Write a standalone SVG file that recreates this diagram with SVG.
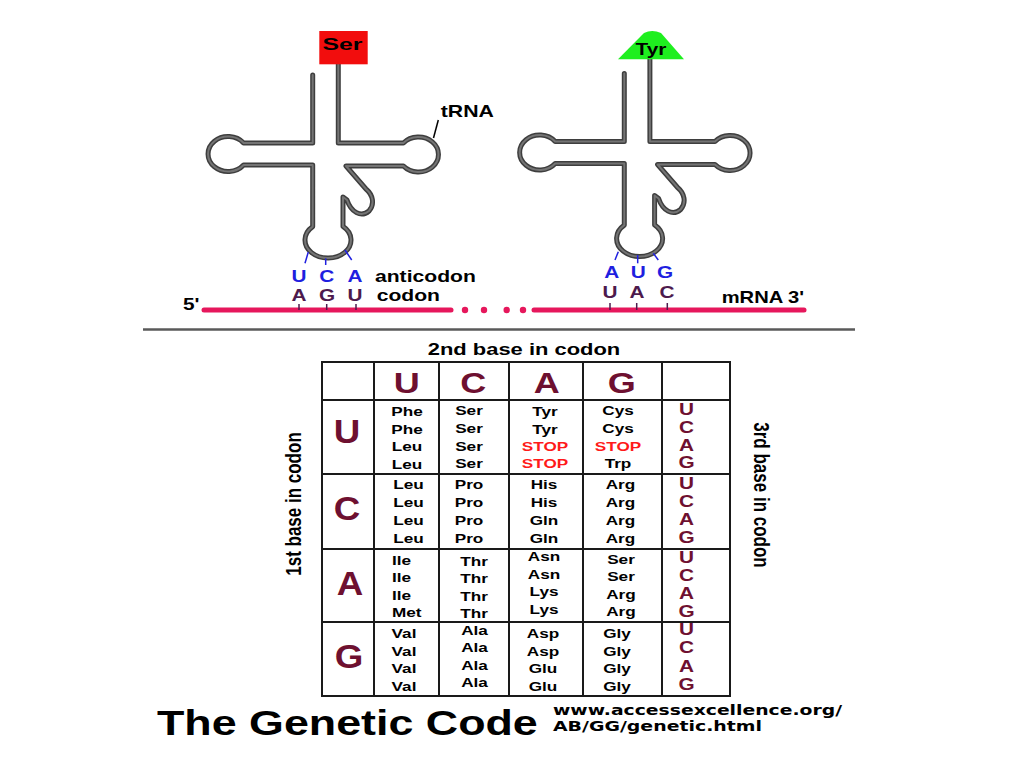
<svg xmlns="http://www.w3.org/2000/svg" xmlns:xlink="http://www.w3.org/1999/xlink" width="1024" height="768" viewBox="0 0 1024 768">
<style>
.tx{font-family:"Liberation Sans",Arial,Helvetica,sans-serif;font-weight:bold;fill:#000}
.lbl{font-size:16px}
.cell{font-size:13px}
.stop{fill:#ff1a1a}
.mar{fill:#6e1030}
.big{font-size:30px}
.side{font-size:34px}
.third{font-size:16px}
.anti{fill:#1f1fe0;font-size:16px}
.cod{fill:#4d1a4d;font-size:16px}
.url{font-family:"DejaVu Sans",Verdana,sans-serif;font-weight:bold;font-size:13.5px;fill:#000}
.shape-out{fill:none;stroke:#3e3e3e;stroke-width:5;stroke-linejoin:round;stroke-linecap:round}
.shape-in{fill:none;stroke:#747474;stroke-width:2;stroke-linejoin:round;stroke-linecap:round}
.grid{fill:none;stroke:#1a1a1a;stroke-width:2}
.mrna{stroke:#e6175c;stroke-width:5;stroke-linecap:round}
.dot{fill:#e6175c}
.tickb{stroke:#2020e0;stroke-width:1.5}
.tickp{stroke:#4d1a4d;stroke-width:1.5}
</style>
<defs>
<path id="trnaShape" d="M312.7,75 V143 H243.6 A20,17.5 0 1 0 243.6,165 H312.7 V226.6 A23,18 0 1 0 343,226.4 V197 L347,200 C351,212 361,218 369,211 C375,204 373,195 366,189 L346,166 H403.4 A20,17.5 0 1 0 403.4,143 H338.3 V60"/>
</defs>
<rect width="1024" height="768" fill="#fff"/>

<g id="trna-ser">
<use xlink:href="#trnaShape" class="shape-out"/>
<use xlink:href="#trnaShape" class="shape-in"/>
<rect x="319.3" y="31" width="48.4" height="33.3" fill="#f20d0d"/>
<text class="tx lbl" text-anchor="middle" transform="translate(342.5,50) scale(1.55,1)">Ser</text>
</g>

<g id="trna-tyr">
<g transform="translate(311.6,-1.5)">
<use xlink:href="#trnaShape" class="shape-out"/>
<use xlink:href="#trnaShape" class="shape-in"/>
</g>
<path d="M618,59.3 L644,33 Q652,29 661,33 L684,59.3 Z" fill="#1fef1f"/>
<text class="tx lbl" text-anchor="middle" transform="translate(651,55) scale(1.3,1)">Tyr</text>
</g>

<g id="trna-label">
<text class="tx lbl" transform="translate(440.7,116.7) scale(1.33,1)">tRNA</text>
</g>

<g id="anticodon-left">
<text class="tx anti" text-anchor="middle" transform="translate(299,281.7) scale(1.3,1)">U</text>
<text class="tx anti" text-anchor="middle" transform="translate(326.7,281.7) scale(1.3,1)">C</text>
<text class="tx anti" text-anchor="middle" transform="translate(355,281.7) scale(1.3,1)">A</text>
<text class="tx cod" text-anchor="middle" transform="translate(299,301) scale(1.3,1)">A</text>
<text class="tx cod" text-anchor="middle" transform="translate(327,301) scale(1.3,1)">G</text>
<text class="tx cod" text-anchor="middle" transform="translate(355,301) scale(1.3,1)">U</text>
</g>

<g id="anticodon-right">
<text class="tx anti" text-anchor="middle" transform="translate(611.7,278.3) scale(1.3,1)">A</text>
<text class="tx anti" text-anchor="middle" transform="translate(638.3,278.3) scale(1.3,1)">U</text>
<text class="tx anti" text-anchor="middle" transform="translate(665,278.3) scale(1.3,1)">G</text>
<text class="tx cod" text-anchor="middle" transform="translate(610,298.3) scale(1.3,1)">U</text>
<text class="tx cod" text-anchor="middle" transform="translate(637,298.3) scale(1.3,1)">A</text>
<text class="tx cod" text-anchor="middle" transform="translate(667,298.3) scale(1.3,1)">C</text>
</g>

<g id="labels">
<text class="tx lbl" transform="translate(375,281.7) scale(1.32,1)">anticodon</text>
<text class="tx lbl" transform="translate(376.7,301) scale(1.32,1)">codon</text>
<text class="tx lbl" transform="translate(183,310) scale(1.3,1)">5'</text>
<text class="tx lbl" transform="translate(721.7,303.3) scale(1.26,1)">mRNA  3'</text>
</g>

<g id="mrna">
<line class="mrna" x1="204" y1="310" x2="451" y2="310"/>
<circle class="dot" cx="465" cy="310" r="3.2"/>
<circle class="dot" cx="484" cy="310" r="3.2"/>
<circle class="dot" cx="506.7" cy="310" r="3.2"/>
<circle class="dot" cx="523" cy="310" r="3.2"/>
<line class="mrna" x1="534" y1="310" x2="804" y2="310"/>
</g>

<g id="connectors">
<line x1="438.3" y1="120" x2="433.5" y2="138" stroke="#000" stroke-width="1.5"/>
<line class="tickb" x1="308.3" y1="252" x2="305" y2="263.3"/>
<line class="tickb" x1="325.7" y1="258.3" x2="325.7" y2="265"/>
<line class="tickb" x1="345" y1="250" x2="351.7" y2="260"/>
<line class="tickb" x1="618.3" y1="251.7" x2="615" y2="260"/>
<line class="tickb" x1="637.7" y1="255" x2="637.7" y2="263.3"/>
<line class="tickb" x1="653.3" y1="253.3" x2="658.3" y2="260"/>
<line class="tickp" x1="299" y1="304" x2="299" y2="310"/>
<line class="tickp" x1="326.7" y1="304" x2="326.7" y2="310"/>
<line class="tickp" x1="356" y1="304" x2="356" y2="310"/>
<line class="tickp" x1="610" y1="303" x2="610" y2="310"/>
<line class="tickp" x1="636.7" y1="303" x2="636.7" y2="310"/>
<line class="tickp" x1="667.3" y1="303" x2="667.3" y2="310"/>
</g>

<g id="divider">
<line x1="143" y1="329.5" x2="855" y2="329.5" stroke="#5a5a5a" stroke-width="2.5"/>
</g>

<g id="axis-labels">
<text class="tx" font-size="17" text-anchor="middle" transform="translate(524,355) scale(1.29,1)">2nd base in codon</text>
<text class="tx" font-size="17" text-anchor="middle" transform="translate(301,504) scale(1.3,1) rotate(-90)">1st base in codon</text>
<text class="tx" font-size="17" text-anchor="middle" transform="translate(754,495) scale(1.3,1) rotate(90)">3rd base in codon</text>
</g>

<g id="table-grid">
<rect class="grid" x="322" y="362" width="408" height="334"/>
<line class="grid" x1="374" y1="362" x2="374" y2="696"/>
<line class="grid" x1="439" y1="362" x2="439" y2="696"/>
<line class="grid" x1="509" y1="362" x2="509" y2="696"/>
<line class="grid" x1="583" y1="362" x2="583" y2="696" stroke-width="2.5"/>
<line class="grid" x1="662" y1="362" x2="662" y2="696"/>
<line class="grid" x1="322" y1="400" x2="730" y2="400"/>
<line class="grid" x1="322" y1="474" x2="730" y2="474"/>
<line class="grid" x1="322" y1="549" x2="730" y2="549"/>
<line class="grid" x1="322" y1="622" x2="730" y2="622"/>
</g>

<g id="header-letters">
<text class="tx mar big" text-anchor="middle" transform="translate(406.7,393.3) scale(1.2,1)">U</text>
<text class="tx mar big" text-anchor="middle" transform="translate(473.3,393.3) scale(1.2,1)">C</text>
<text class="tx mar big" text-anchor="middle" transform="translate(546.7,393.3) scale(1.2,1)">A</text>
<text class="tx mar big" text-anchor="middle" transform="translate(621.7,393.3) scale(1.2,1)">G</text>
</g>

<g id="first-letters">
<text class="tx mar side" text-anchor="middle" transform="translate(347,443) scale(1.08,1)">U</text>
<text class="tx mar side" text-anchor="middle" transform="translate(347,520) scale(1.08,1)">C</text>
<text class="tx mar side" text-anchor="middle" transform="translate(350,595) scale(1.08,1)">A</text>
<text class="tx mar side" text-anchor="middle" transform="translate(349,668) scale(1.08,1)">G</text>
</g>

<g id="block-U">
<g transform="translate(407,0) scale(1.32,1)"><text class="tx cell" text-anchor="middle" y="416">Phe</text><text class="tx cell" text-anchor="middle" y="434">Phe</text><text class="tx cell" text-anchor="middle" y="451.5">Leu</text><text class="tx cell" text-anchor="middle" y="469">Leu</text></g>
<g transform="translate(469,0) scale(1.32,1)"><text class="tx cell" text-anchor="middle" y="415">Ser</text><text class="tx cell" text-anchor="middle" y="433">Ser</text><text class="tx cell" text-anchor="middle" y="451">Ser</text><text class="tx cell" text-anchor="middle" y="468.5">Ser</text></g>
<g transform="translate(545,0) scale(1.32,1)"><text class="tx cell" text-anchor="middle" y="416">Tyr</text><text class="tx cell" text-anchor="middle" y="434">Tyr</text><text class="tx cell stop" text-anchor="middle" y="451">STOP</text><text class="tx cell stop" text-anchor="middle" y="468.5">STOP</text></g>
<g transform="translate(618,0) scale(1.32,1)"><text class="tx cell" text-anchor="middle" y="415">Cys</text><text class="tx cell" text-anchor="middle" y="433">Cys</text><text class="tx cell stop" text-anchor="middle" y="451">STOP</text><text class="tx cell" text-anchor="middle" y="468.5">Trp</text></g>
<g transform="translate(686.5,0) scale(1.3,1)"><text class="tx mar third" text-anchor="middle" y="415">U</text><text class="tx mar third" text-anchor="middle" y="433.3">C</text><text class="tx mar third" text-anchor="middle" y="450.7">A</text><text class="tx mar third" text-anchor="middle" y="468.3">G</text></g>
</g>

<g id="block-C">
<g transform="translate(408.5,0) scale(1.32,1)"><text class="tx cell" text-anchor="middle" y="489">Leu</text><text class="tx cell" text-anchor="middle" y="507">Leu</text><text class="tx cell" text-anchor="middle" y="525">Leu</text><text class="tx cell" text-anchor="middle" y="543">Leu</text></g>
<g transform="translate(469,0) scale(1.32,1)"><text class="tx cell" text-anchor="middle" y="489">Pro</text><text class="tx cell" text-anchor="middle" y="507">Pro</text><text class="tx cell" text-anchor="middle" y="525">Pro</text><text class="tx cell" text-anchor="middle" y="543">Pro</text></g>
<g transform="translate(544,0) scale(1.32,1)"><text class="tx cell" text-anchor="middle" y="489">His</text><text class="tx cell" text-anchor="middle" y="507">His</text><text class="tx cell" text-anchor="middle" y="525">Gln</text><text class="tx cell" text-anchor="middle" y="543">Gln</text></g>
<g transform="translate(620.5,0) scale(1.32,1)"><text class="tx cell" text-anchor="middle" y="489">Arg</text><text class="tx cell" text-anchor="middle" y="507">Arg</text><text class="tx cell" text-anchor="middle" y="525">Arg</text><text class="tx cell" text-anchor="middle" y="543">Arg</text></g>
<g transform="translate(686.5,0) scale(1.3,1)"><text class="tx mar third" text-anchor="middle" y="489">U</text><text class="tx mar third" text-anchor="middle" y="507">C</text><text class="tx mar third" text-anchor="middle" y="525">A</text><text class="tx mar third" text-anchor="middle" y="543.5">G</text></g>
</g>

<g id="block-A">
<g transform="translate(392,0) scale(1.32,1)"><text class="tx cell" y="565">Ile</text><text class="tx cell" y="582.5">Ile</text><text class="tx cell" y="600">Ile</text><text class="tx cell" y="617.5">Met</text></g>
<g transform="translate(474,0) scale(1.32,1)"><text class="tx cell" text-anchor="middle" y="566">Thr</text><text class="tx cell" text-anchor="middle" y="583.5">Thr</text><text class="tx cell" text-anchor="middle" y="601">Thr</text><text class="tx cell" text-anchor="middle" y="618.5">Thr</text></g>
<g transform="translate(544,0) scale(1.32,1)"><text class="tx cell" text-anchor="middle" y="561.5">Asn</text><text class="tx cell" text-anchor="middle" y="579">Asn</text><text class="tx cell" text-anchor="middle" y="596.5">Lys</text><text class="tx cell" text-anchor="middle" y="614">Lys</text></g>
<g transform="translate(621,0) scale(1.32,1)"><text class="tx cell" text-anchor="middle" y="564">Ser</text><text class="tx cell" text-anchor="middle" y="581.5">Ser</text><text class="tx cell" text-anchor="middle" y="599">Arg</text><text class="tx cell" text-anchor="middle" y="616.5">Arg</text></g>
<g transform="translate(686.5,0) scale(1.3,1)"><text class="tx mar third" text-anchor="middle" y="563">U</text><text class="tx mar third" text-anchor="middle" y="581">C</text><text class="tx mar third" text-anchor="middle" y="599">A</text><text class="tx mar third" text-anchor="middle" y="617">G</text></g>
</g>

<g id="block-G">
<g transform="translate(404,0) scale(1.32,1)"><text class="tx cell" text-anchor="middle" y="638.3">Val</text><text class="tx cell" text-anchor="middle" y="655.7">Val</text><text class="tx cell" text-anchor="middle" y="673.3">Val</text><text class="tx cell" text-anchor="middle" y="690.7">Val</text></g>
<g transform="translate(474.5,0) scale(1.32,1)"><text class="tx cell" text-anchor="middle" y="635">Ala</text><text class="tx cell" text-anchor="middle" y="652.3">Ala</text><text class="tx cell" text-anchor="middle" y="670">Ala</text><text class="tx cell" text-anchor="middle" y="687.3">Ala</text></g>
<g transform="translate(543,0) scale(1.32,1)"><text class="tx cell" text-anchor="middle" y="638.3">Asp</text><text class="tx cell" text-anchor="middle" y="655.7">Asp</text><text class="tx cell" text-anchor="middle" y="673.3">Glu</text><text class="tx cell" text-anchor="middle" y="690.7">Glu</text></g>
<g transform="translate(617,0) scale(1.32,1)"><text class="tx cell" text-anchor="middle" y="638.5">Gly</text><text class="tx cell" text-anchor="middle" y="656">Gly</text><text class="tx cell" text-anchor="middle" y="673.5">Gly</text><text class="tx cell" text-anchor="middle" y="691">Gly</text></g>
<g transform="translate(686.5,0) scale(1.3,1)"><text class="tx mar third" text-anchor="middle" y="635">U</text><text class="tx mar third" text-anchor="middle" y="653.3">C</text><text class="tx mar third" text-anchor="middle" y="671.7">A</text><text class="tx mar third" text-anchor="middle" y="690">G</text></g>
</g>

<g id="title">
<text class="tx" font-size="35" transform="translate(157,735) scale(1.28,1)">The Genetic Code</text>
<text class="url" x="553" y="715" textLength="289" lengthAdjust="spacingAndGlyphs">www.accessexcellence.org/</text>
<text class="url" x="553" y="730.5" textLength="209" lengthAdjust="spacingAndGlyphs">AB/GG/genetic.html</text>
</g>
</svg>
